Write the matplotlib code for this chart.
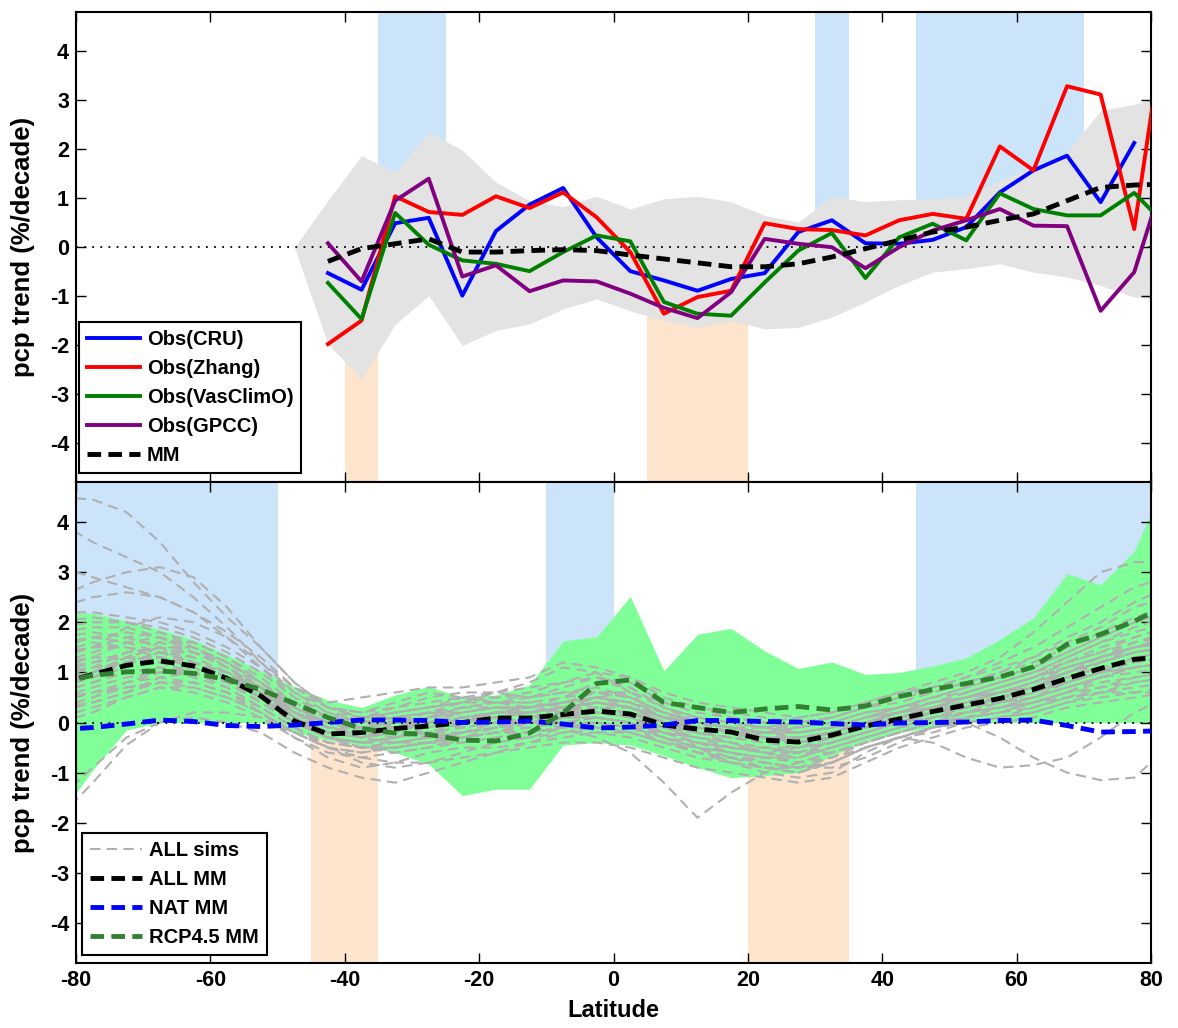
import numpy as np
import matplotlib
matplotlib.use("Agg")
import matplotlib.pyplot as plt
from matplotlib.lines import Line2D

plt.rcParams['font.family'] = ['Liberation Sans', 'DejaVu Sans']
plt.rcParams['font.weight'] = 'bold'
plt.rcParams['axes.unicode_minus'] = False

nan = np.nan

# ---------------- top panel: observations ----------------
lat_obs = [-42.5, -37.5, -32.5, -27.5, -22.5, -17.5, -12.5, -7.5, -2.5, 2.5, 7.5, 12.5, 17.5,
           22.5, 27.5, 32.5, 37.5, 42.5, 47.5, 52.5, 57.5, 62.5, 67.5, 72.5, 77.5, 82.5]
obs_cru = [-0.53, -0.87, 0.49, 0.6, -0.99, 0.33, 0.87, 1.21, 0.2, -0.49, -0.68, -0.89, -0.65,
           -0.53, 0.31, 0.55, 0.08, 0.07, 0.15, 0.41, 1.12, 1.57, 1.87, 0.92, 2.13, nan]
obs_zhang = [-1.98, -1.5, 1.04, 0.72, 0.66, 1.04, 0.8, 1.12, 0.61, -0.1, -1.36, -1.02, -0.89,
             0.49, 0.37, 0.35, 0.24, 0.55, 0.68, 0.58, 2.06, 1.57, 3.29, 3.12, 0.37, 5.0]
obs_vasclimo = [-0.73, -1.47, 0.7, 0.05, -0.27, -0.34, -0.49, -0.1, 0.24, 0.12, -1.12, -1.36, -1.4,
                -0.72, -0.07, 0.29, -0.63, 0.2, 0.48, 0.14, 1.1, 0.78, 0.65, 0.65, 1.11, 0.41]
obs_gpcc = [0.08, -0.7, 0.95, 1.4, -0.6, -0.37, -0.9, -0.68, -0.7, -0.95, -1.24, -1.45, -0.92,
            0.17, 0.07, 0.0, -0.43, 0.0, 0.34, 0.55, 0.78, 0.44, 0.43, -1.3, -0.51, 1.67]
mm_masked = [-0.29, -0.03, 0.07, 0.17, -0.1, -0.1, -0.07, -0.05, -0.07, -0.16, -0.24, -0.32, -0.4,
             -0.4, -0.34, -0.2, -0.03, 0.14, 0.31, 0.41, 0.55, 0.68, 0.95, 1.22, 1.27, 1.29]

# model spread (grey band) on the observed mask
lat_band = [-47.5] + lat_obs
band_hi = [0.0, 0.95, 1.87, 1.53, 2.35, 1.98, 1.33, 0.95, 0.83, 1.04, 0.78, 0.99, 1.04, 0.93,
           0.65, 0.51, 1.04, 0.93, 0.97, 0.99, 1.04, 1.36, 1.64, 1.94, 2.79, 2.92, 3.14]
band_lo = [0.0, -1.98, -2.69, -1.58, -0.99, -2.01, -1.7, -1.57, -1.26, -1.06, -1.3, -1.5, -1.64, -1.5,
           -1.67, -1.64, -1.43, -1.12, -0.78, -0.51, -0.44, -0.34, -0.51, -0.61, -0.78, -1.02, -1.1]

# latitude bands where obs trend is detected (wet / dry)
top_wet = [(-35, -25), (30, 35), (45, 70)]
top_dry = [(-40, -35), (5, 20)]

# ---------------- bottom panel: models ----------------
lat = [-82.5, -77.5, -72.5, -67.5, -62.5, -57.5, -52.5, -47.5, -42.5, -37.5, -32.5, -27.5,
       -22.5, -17.5, -12.5, -7.5, -2.5, 2.5, 7.5, 12.5, 17.5, 22.5, 27.5, 32.5, 37.5, 42.5,
       47.5, 52.5, 57.5, 62.5, 67.5, 72.5, 77.5, 82.5]
all_mm = [0.78, 0.96, 1.14, 1.23, 1.13, 0.88, 0.53, 0.03, -0.23, -0.2, -0.12, -0.07, 0.0, 0.09,
          0.09, 0.16, 0.23, 0.17, -0.05, -0.13, -0.19, -0.35, -0.39, -0.25, -0.07, 0.07, 0.22,
          0.35, 0.48, 0.66, 0.88, 1.08, 1.26, 1.32]
nat_mm = [-0.14, -0.1, -0.03, 0.05, 0.02, -0.06, -0.08, -0.05, 0.0, 0.05, 0.05, 0.04, 0.0, 0.01,
          0.03, -0.03, -0.11, -0.09, -0.05, 0.04, 0.04, 0.02, 0.01, -0.02, -0.05, -0.01, 0.0,
          0.01, 0.04, 0.05, -0.06, -0.19, -0.18, -0.16]
rcp_mm = [0.8, 0.94, 1.01, 1.03, 0.98, 0.86, 0.66, 0.38, 0.1, -0.12, -0.21, -0.24, -0.35, -0.37,
          -0.21, 0.19, 0.78, 0.85, 0.4, 0.3, 0.2, 0.27, 0.32, 0.25, 0.33, 0.52, 0.66, 0.78, 0.91,
          1.11, 1.56, 1.76, 2.02, 2.36]
rcp_hi = [2.2, 2.18, 2.03, 1.86, 1.65, 1.35, 1.03, 0.72, 0.45, 0.3, 0.55, 0.72, 0.5, 0.55, 0.75,
          1.63, 1.71, 2.52, 1.03, 1.76, 1.88, 1.43, 1.08, 1.21, 0.96, 1.0, 1.13, 1.29, 1.66, 2.09,
          2.97, 2.75, 3.42, 4.94]
rcp_lo = [-1.86, -0.95, -0.15, 0.0, 0.0, 0.0, 0.0, -0.2, -0.35, -0.46, -0.6, -0.83, -1.46, -1.33,
          -1.33, -0.45, -0.4, -0.45, -0.66, -0.9, -1.1, -1.06, -1.0, -0.66, -0.36, -0.2, -0.1,
          0.0, 0.0, 0.0, 0.0, 0.0, 0.0, 0.0]

# individual ALL simulations
all_sims = [
    [1.9, 2.0, 2.0, 1.9, 1.7, 1.4, 1.0, 0.5, 0.2, 0.1, 0.3, 0.5, 0.6, 0.6, 0.5, 0.7, 0.9, 0.8, 0.4, 0.3, 0.2, 0.1, 0.0, 0.1, 0.3, 0.4, 0.6, 0.8, 1.0, 1.2, 1.5, 1.8, 2.1, 2.3],
    [0.1, 0.3, 0.5, 0.7, 0.6, 0.4, 0.1, -0.3, -0.6, -0.7, -0.6, -0.5, -0.4, -0.3, -0.3, -0.2, -0.2, -0.3, -0.5, -0.7, -0.8, -0.9, -1.0, -0.8, -0.5, -0.3, -0.1, 0.0, 0.1, 0.2, 0.4, 0.6, 0.7, 0.8],
    [1.2, 1.4, 1.6, 1.6, 1.4, 1.1, 0.7, 0.2, -0.1, -0.2, -0.1, 0.1, 0.2, 0.3, 0.3, 0.4, 0.5, 0.4, 0.1, -0.1, -0.2, -0.3, -0.3, -0.2, 0.0, 0.2, 0.4, 0.5, 0.7, 0.9, 1.2, 1.4, 1.6, 1.7],
    [0.5, 0.7, 0.9, 1.0, 1.0, 0.8, 0.4, 0.0, -0.3, -0.4, -0.3, -0.2, -0.1, 0.0, 0.1, 0.2, 0.3, 0.1, -0.2, -0.4, -0.5, -0.6, -0.6, -0.4, -0.2, 0.0, 0.1, 0.2, 0.3, 0.5, 0.7, 0.9, 1.0, 1.1],
    [1.5, 1.7, 1.8, 1.7, 1.5, 1.2, 0.8, 0.4, 0.1, 0.0, 0.1, 0.2, 0.3, 0.4, 0.5, 0.6, 0.6, 0.5, 0.2, 0.0, -0.1, -0.2, -0.2, -0.1, 0.1, 0.3, 0.5, 0.7, 0.9, 1.1, 1.4, 1.7, 2.0, 2.2],
    [0.3, 0.5, 0.8, 1.0, 1.1, 1.0, 0.6, 0.1, -0.2, -0.3, -0.2, -0.2, -0.2, -0.1, 0.0, 0.0, 0.1, 0.0, -0.3, -0.5, -0.6, -0.7, -0.8, -0.6, -0.4, -0.2, 0.0, 0.2, 0.3, 0.4, 0.6, 0.8, 0.9, 1.0],
    [1.0, 1.2, 1.4, 1.5, 1.4, 1.1, 0.6, 0.1, -0.3, -0.4, -0.3, -0.1, 0.1, 0.2, 0.2, 0.3, 0.4, 0.3, 0.0, -0.2, -0.3, -0.4, -0.5, -0.3, -0.1, 0.1, 0.2, 0.4, 0.6, 0.7, 1.0, 1.2, 1.4, 1.5],
    [0.8, 0.9, 1.1, 1.3, 1.2, 0.9, 0.5, 0.0, -0.2, -0.1, 0.0, 0.1, 0.0, 0.1, 0.2, 0.4, 0.6, 0.5, 0.2, 0.0, -0.1, -0.2, -0.3, -0.2, 0.0, 0.1, 0.3, 0.4, 0.6, 0.8, 1.1, 1.3, 1.5, 1.6],
    [1.7, 1.8, 1.7, 1.5, 1.2, 0.9, 0.5, 0.1, -0.1, -0.2, -0.2, -0.3, -0.3, -0.2, -0.1, 0.1, 0.3, 0.2, -0.1, -0.3, -0.4, -0.5, -0.6, -0.4, -0.2, 0.0, 0.2, 0.4, 0.5, 0.7, 0.9, 1.1, 1.2, 1.3],
    [0.6, 0.8, 1.0, 1.1, 0.9, 0.7, 0.3, -0.1, -0.4, -0.5, -0.4, -0.3, -0.2, -0.1, -0.1, 0.0, 0.1, 0.0, -0.2, -0.3, -0.4, -0.6, -0.7, -0.5, -0.3, -0.1, 0.1, 0.3, 0.4, 0.5, 0.8, 1.0, 1.2, 1.3],
    [1.3, 1.5, 1.7, 1.8, 1.6, 1.3, 0.9, 0.4, 0.1, 0.1, 0.2, 0.3, 0.4, 0.4, 0.3, 0.4, 0.5, 0.6, 0.4, 0.2, 0.1, 0.0, -0.1, 0.0, 0.2, 0.3, 0.4, 0.6, 0.8, 1.0, 1.3, 1.6, 1.9, 2.1],
    [0.2, 0.4, 0.6, 0.8, 0.8, 0.6, 0.3, -0.1, -0.5, -0.8, -0.9, -0.8, -0.6, -0.4, -0.3, -0.1, 0.0, -0.1, -0.4, -0.6, -0.7, -0.8, -0.9, -0.9, -0.7, -0.4, -0.1, 0.1, 0.3, 0.4, 0.5, 0.6, 0.6, 0.6],
    [1.1, 1.3, 1.3, 1.2, 1.0, 0.8, 0.5, 0.1, -0.2, -0.3, -0.1, 0.0, 0.2, 0.3, 0.3, 0.2, 0.2, 0.1, -0.1, -0.2, -0.3, -0.4, -0.4, -0.3, -0.1, 0.0, 0.2, 0.3, 0.5, 0.7, 0.9, 1.0, 1.1, 1.2],
    [0.9, 1.1, 1.4, 1.5, 1.3, 1.0, 0.6, 0.2, 0.0, -0.1, 0.0, 0.0, -0.1, 0.0, 0.1, 0.1, 0.2, 0.2, 0.0, -0.1, -0.2, -0.3, -0.4, -0.3, -0.1, 0.0, 0.1, 0.3, 0.4, 0.6, 0.8, 1.0, 1.3, 1.4],
    [2.0, 2.1, 2.0, 1.8, 1.5, 1.1, 0.7, 0.3, 0.0, 0.0, 0.1, 0.2, 0.2, 0.3, 0.3, 0.5, 0.8, 0.7, 0.3, 0.0, -0.2, -0.2, -0.1, 0.0, 0.2, 0.3, 0.5, 0.6, 0.8, 1.0, 1.3, 1.6, 1.8, 2.0],
    [0.4, 0.6, 0.8, 0.9, 0.8, 0.6, 0.2, -0.2, -0.4, -0.5, -0.5, -0.4, -0.3, -0.2, -0.2, -0.1, -0.1, -0.2, -0.4, -0.5, -0.6, -0.7, -0.7, -0.5, -0.3, -0.1, 0.0, 0.1, 0.2, 0.4, 0.6, 0.7, 0.9, 1.0],
    [1.4, 1.6, 1.5, 1.3, 1.1, 0.9, 0.6, 0.2, -0.1, -0.1, 0.0, 0.1, 0.3, 0.4, 0.4, 0.3, 0.3, 0.3, 0.1, 0.0, -0.1, -0.2, -0.2, -0.1, 0.1, 0.2, 0.4, 0.5, 0.7, 0.9, 1.1, 1.3, 1.5, 1.7],
    [0.7, 0.9, 1.2, 1.4, 1.3, 1.0, 0.5, 0.0, -0.3, -0.4, -0.4, -0.3, -0.2, 0.0, 0.0, 0.1, 0.1, 0.0, -0.2, -0.3, -0.5, -0.6, -0.5, -0.4, -0.2, 0.0, 0.2, 0.3, 0.5, 0.6, 0.9, 1.2, 1.4, 1.5],
    [1.2, 1.3, 1.6, 1.7, 1.5, 1.2, 0.8, 0.3, 0.1, 0.0, -0.1, -0.1, 0.0, 0.2, 0.2, 0.3, 0.5, 0.4, 0.1, -0.1, -0.2, -0.3, -0.3, -0.2, 0.0, 0.2, 0.3, 0.5, 0.6, 0.8, 1.1, 1.3, 1.6, 1.8],
    [0.5, 0.6, 0.7, 0.8, 0.7, 0.5, 0.2, -0.2, -0.5, -0.6, -0.5, -0.4, -0.4, -0.3, -0.2, -0.1, 0.0, -0.1, -0.3, -0.4, -0.5, -0.5, -0.6, -0.6, -0.4, -0.2, 0.0, 0.1, 0.2, 0.3, 0.5, 0.7, 0.8, 0.9],
    [0.9, 1.0, 1.3, 1.6, 1.6, 1.3, 0.8, 0.2, -0.2, -0.3, -0.2, 0.0, 0.1, 0.1, 0.0, 0.2, 0.4, 0.3, 0.0, -0.2, -0.4, -0.5, -0.5, -0.4, -0.2, 0.0, 0.2, 0.3, 0.5, 0.7, 1.0, 1.2, 1.5, 1.6],
    [1.8, 1.9, 1.9, 1.7, 1.4, 1.1, 0.7, 0.3, 0.0, -0.2, -0.3, -0.2, 0.0, 0.1, 0.2, 0.3, 0.4, 0.3, 0.1, 0.1, 0.0, -0.1, -0.2, -0.1, 0.1, 0.2, 0.4, 0.6, 0.8, 1.0, 1.2, 1.5, 1.7, 1.9],
    [0.0, 0.2, 0.5, 0.7, 0.7, 0.5, 0.2, -0.3, -0.7, -0.9, -0.8, -0.6, -0.5, -0.5, -0.4, -0.3, -0.2, -0.2, -0.4, -0.6, -0.8, -1.0, -1.1, -1.0, -0.6, -0.3, -0.2, 0.0, 0.1, 0.3, 0.5, 0.6, 0.8, 0.9],
    [1.4, 1.5, 1.5, 1.4, 1.2, 1.0, 0.7, 0.3, 0.0, 0.1, 0.1, 0.2, 0.1, 0.1, 0.2, 0.3, 0.2, 0.1, -0.1, -0.2, -0.3, -0.2, -0.2, -0.1, 0.0, 0.1, 0.3, 0.4, 0.6, 0.7, 1.0, 1.2, 1.4, 1.5],
    [0.7, 1.0, 1.3, 1.5, 1.5, 1.2, 0.7, 0.1, -0.3, -0.5, -0.6, -0.5, -0.3, -0.2, 0.0, 0.1, 0.1, 0.0, -0.3, -0.6, -0.7, -0.7, -0.6, -0.5, -0.3, -0.1, 0.1, 0.2, 0.4, 0.5, 0.7, 0.9, 1.1, 1.2],
    [2.2, 2.2, 2.1, 2.0, 1.8, 1.5, 1.1, 0.6, 0.3, 0.2, 0.4, 0.6, 0.5, 0.4, 0.4, 0.5, 0.6, 0.6, 0.3, 0.1, 0.0, -0.1, -0.1, 0.1, 0.3, 0.5, 0.6, 0.8, 1.0, 1.3, 1.6, 1.9, 2.3, 2.5],
    [0.3, 0.4, 0.6, 0.9, 1.0, 0.9, 0.5, 0.0, -0.3, -0.5, -0.5, -0.4, -0.2, -0.1, 0.0, 0.0, 0.0, -0.1, -0.2, -0.4, -0.5, -0.6, -0.8, -0.7, -0.5, -0.3, -0.1, 0.1, 0.2, 0.4, 0.6, 0.9, 1.1, 1.2],
    [1.0, 1.1, 1.2, 1.4, 1.4, 1.2, 0.8, 0.3, -0.1, -0.3, -0.4, -0.4, -0.3, -0.1, 0.1, 0.3, 0.5, 0.4, 0.1, 0.0, -0.1, -0.3, -0.4, -0.3, -0.1, 0.1, 0.2, 0.3, 0.5, 0.6, 0.8, 1.0, 1.3, 1.4],
    [4.5, 4.45, 4.2, 3.6, 2.8, 2.1, 1.5, 0.8, 0.3, 0.1, 0.2, 0.3, 0.4, 0.5, 0.5, 0.6, 0.7, 0.5, 0.2, 0.0, -0.2, -0.3, -0.4, -0.3, -0.1, 0.1, 0.3, 0.5, 0.7, 0.9, 1.2, 1.4, 1.7, 1.9],
    [4.0, 3.6, 3.3, 3.0, 2.5, 1.9, 1.2, 0.6, 0.2, 0.0, 0.1, 0.2, 0.1, 0.2, 0.3, 0.4, 0.5, 0.3, 0.0, -0.2, -0.3, -0.4, -0.4, -0.2, 0.0, 0.2, 0.3, 0.5, 0.6, 0.8, 1.0, 1.3, 1.5, 1.6],
    [3.1, 2.9, 2.7, 2.5, 2.2, 1.7, 1.1, 0.5, 0.1, -0.1, 0.0, 0.1, 0.3, 0.3, 0.2, 0.3, 0.4, 0.3, 0.0, -0.1, -0.2, -0.3, -0.3, -0.2, 0.0, 0.1, 0.3, 0.4, 0.6, 0.8, 1.0, 1.2, 1.4, 1.5],
    [2.5, 2.8, 3.0, 3.1, 2.9, 2.3, 1.5, 0.8, 0.3, 0.2, 0.3, 0.4, 0.5, 0.6, 0.7, 0.8, 0.9, 0.7, 0.3, 0.1, 0.0, -0.1, -0.2, -0.1, 0.1, 0.3, 0.5, 0.7, 0.9, 1.1, 1.4, 1.7, 2.0, 2.2],
    [2.3, 2.5, 2.6, 2.5, 2.2, 1.8, 1.3, 0.7, 0.3, 0.1, 0.0, 0.0, 0.1, 0.2, 0.2, 0.3, 0.4, 0.3, 0.1, -0.1, -0.2, -0.3, -0.3, -0.2, 0.0, 0.2, 0.4, 0.5, 0.7, 0.9, 1.1, 1.3, 1.5, 1.6],
    [-1.9, -1.2, -0.45, 0.0, 0.2, 0.2, 0.1, -0.2, -0.5, -0.7, -0.8, -0.8, -0.7, -0.6, -0.5, -0.4, -0.4, -0.5, -0.7, -0.9, -1.0, -1.1, -1.2, -1.1, -0.8, -0.5, -0.3, -0.1, 0.0, 0.1, 0.3, 0.4, 0.5, 0.6],
    [-1.5, -0.9, -0.3, 0.0, 0.1, 0.0, -0.2, -0.6, -0.9, -1.1, -1.2, -1.0, -0.8, -0.6, -0.4, -0.2, -0.1, -0.2, -0.4, -0.6, -0.7, -0.8, -0.9, -0.8, -0.5, -0.3, -0.1, 0.0, 0.1, 0.2, 0.4, 0.5, 0.6, 0.7],
    [0.3, 0.5, 0.7, 0.8, 0.8, 0.6, 0.2, -0.2, -0.5, -0.6, -0.5, -0.4, -0.3, -0.2, -0.2, -0.1, 0.0, -0.1, -0.3, -0.5, -0.7, -0.9, -1.0, -0.8, -0.5, -0.3, -0.4, -0.7, -0.9, -0.85, -0.7, -0.3, 0.2, 0.5],
    [1.0, 1.1, 1.2, 1.2, 1.0, 0.7, 0.3, -0.1, -0.4, -0.5, -0.4, -0.3, -0.2, -0.1, 0.0, 0.1, 0.2, 0.1, -0.2, -0.4, -0.6, -0.8, -0.9, -0.8, -0.5, -0.3, -0.1, 0.0, -0.3, -0.7, -1.0, -1.15, -1.1, -0.5],
    [0.6, 0.8, 1.0, 1.1, 1.0, 0.8, 0.4, 0.0, -0.3, -0.4, -0.3, -0.2, -0.1, 0.0, 0.0, -0.1, -0.3, -0.6, -1.2, -1.9, -1.4, -1.0, -0.8, -0.6, -0.4, -0.2, 0.0, 0.2, 0.3, 0.5, 0.7, 0.9, 1.1, 1.2],
    [0.8, 1.0, 1.2, 1.3, 1.2, 1.0, 0.6, 0.1, -0.2, -0.2, 0.0, 0.2, 0.4, 0.6, 0.8, 1.1, 1.0, 0.6, 0.0, -0.5, -0.8, -0.9, -0.9, -0.7, -0.4, -0.2, 0.0, 0.2, 0.4, 0.6, 0.8, 1.0, 1.1, 1.2],
    [1.6, 1.7, 1.6, 1.4, 1.2, 0.9, 0.6, 0.2, 0.0, 0.0, 0.2, 0.3, 0.5, 0.5, 0.6, 0.8, 1.0, 0.9, 0.5, 0.3, 0.1, 0.0, 0.1, 0.2, 0.4, 0.6, 0.8, 1.0, 1.3, 1.8, 2.4, 3.0, 3.2, 3.2],
    [1.1, 1.2, 1.3, 1.3, 1.1, 0.8, 0.4, 0.0, -0.2, -0.2, -0.1, 0.0, 0.1, 0.2, 0.3, 0.4, 0.5, 0.4, 0.2, 0.0, -0.1, -0.1, 0.0, 0.1, 0.3, 0.5, 0.7, 0.9, 1.2, 1.5, 1.9, 2.3, 2.7, 2.9],
    [1.3, 1.5, 1.9, 2.1, 2.0, 1.7, 1.2, 0.7, 0.4, 0.5, 0.6, 0.7, 0.7, 0.8, 0.9, 1.2, 1.1, 0.9, 0.6, 0.4, 0.3, 0.2, 0.1, 0.2, 0.4, 0.6, 0.7, 0.9, 1.1, 1.3, 1.7, 2.0, 2.4, 2.7],
]

bot_wet = [(-80, -50), (-10, 0), (45, 80)]
bot_dry = [(-45, -35), (20, 35)]

xticks = [-80, -60, -40, -20, 0, 20, 40, 60, 80]
yticks = [-4, -3, -2, -1, 0, 1, 2, 3, 4]
ylim = 4.8

wet_col = '#cce4fa'
dry_col = '#fde4cc'
band_col = '#e3e3e3'
rcp_fill = '#80ff99'
sim_col = '#b0b0b0'
rcp_col = (0.2, 0.5, 0.2)

fig = plt.figure(figsize=(11.78, 10.28), dpi=100)
ax1 = fig.add_axes([0.0645, 0.5311, 0.9126, 0.4569])
ax2 = fig.add_axes([0.0645, 0.0632, 0.9126, 0.4679])


def shade(ax, wet, dry):
    for x0, x1 in wet:
        ax.fill_between([x0, x1], 0, ylim, color=wet_col, lw=0, zorder=0)
    for x0, x1 in dry:
        ax.fill_between([x0, x1], -ylim, 0, color=dry_col, lw=0, zorder=0)


def style(ax):
    ax.set_xlim(-80, 80)
    ax.set_ylim(-ylim, ylim)
    ax.set_xticks(xticks)
    ax.set_yticks(yticks)
    ax.tick_params(direction='in', top=True, right=True, length=7, width=1,
                   labelsize=15.5, pad=5)
    for s in ax.spines.values():
        s.set_linewidth(1.5)
    ax.axhline(0, color='k', lw=1.3, ls=(0, (1, 3.5)), zorder=3)
    ax.set_ylabel('pcp trend (%/decade)', fontsize=18.5, fontweight='bold')
    ax.yaxis.set_label_coords(-0.038, 0.5)


def make_legend(ax, handles, labels, anchor):
    leg = ax.legend(handles, labels, loc='lower left', bbox_to_anchor=anchor,
                    borderaxespad=0, fancybox=False, edgecolor='k', framealpha=1,
                    handlelength=2.6, handletextpad=0.35, labelspacing=0.5, borderpad=0.4,
                    prop=dict(weight='bold', size=14.5))
    leg.get_frame().set_linewidth(1.5)
    return leg


# ---- top panel
shade(ax1, top_wet, top_dry)
ax1.fill_between(lat_band, band_lo, band_hi, color=band_col, lw=0, zorder=1)
ax1.plot(lat_obs, obs_cru, color='#0000ff', lw=2.8, zorder=4)
ax1.plot(lat_obs, obs_zhang, color='#ff0000', lw=2.8, zorder=4)
ax1.plot(lat_obs, obs_vasclimo, color='#008000', lw=2.8, zorder=4)
ax1.plot(lat_obs, obs_gpcc, color='#800080', lw=2.8, zorder=4)
ax1.plot(lat_obs, mm_masked, color='k', lw=3.5, dashes=(2.8, 1.5), zorder=5)
style(ax1)
ax1.tick_params(labelbottom=False)

h_top = [Line2D([], [], color='#0000ff', lw=2.8),
         Line2D([], [], color='#ff0000', lw=2.8),
         Line2D([], [], color='#008000', lw=2.8),
         Line2D([], [], color='#800080', lw=2.8),
         Line2D([], [], color='k', lw=3.5, dashes=(2.8, 1.5))]
l_top = ['Obs(CRU)', 'Obs(Zhang)', 'Obs(VasClimO)', 'Obs(GPCC)', 'MM']
make_legend(ax1, h_top, l_top, (0.003, 0.019))

# ---- bottom panel
shade(ax2, bot_wet, bot_dry)
ax2.fill_between(lat, rcp_lo, rcp_hi, color=rcp_fill, lw=0, zorder=1)
for sim in all_sims:
    ax2.plot(lat, sim, color=sim_col, lw=1.5, dashes=(5, 3), zorder=2)
ax2.plot(lat, all_mm, color='k', lw=3.5, dashes=(2.8, 1.5), zorder=5)
ax2.plot(lat, nat_mm, color='#0000ff', lw=3.5, dashes=(2.8, 1.5), zorder=5)
ax2.plot(lat, rcp_mm, color=rcp_col, lw=3.5, dashes=(2.8, 1.5), zorder=5)
style(ax2)
ax2.set_xlabel('Latitude', fontsize=17, fontweight='bold', labelpad=6)

h_bot = [Line2D([], [], color=sim_col, lw=1.5, dashes=(5, 3)),
         Line2D([], [], color='k', lw=3.5, dashes=(2.8, 1.5)),
         Line2D([], [], color='#0000ff', lw=3.5, dashes=(2.8, 1.5)),
         Line2D([], [], color=rcp_col, lw=3.5, dashes=(2.8, 1.5))]
l_bot = ['ALL sims', 'ALL MM', 'NAT MM', 'RCP4.5 MM']
make_legend(ax2, h_bot, l_bot, (0.0056, 0.017))

fig.savefig('out.png', dpi=100)
